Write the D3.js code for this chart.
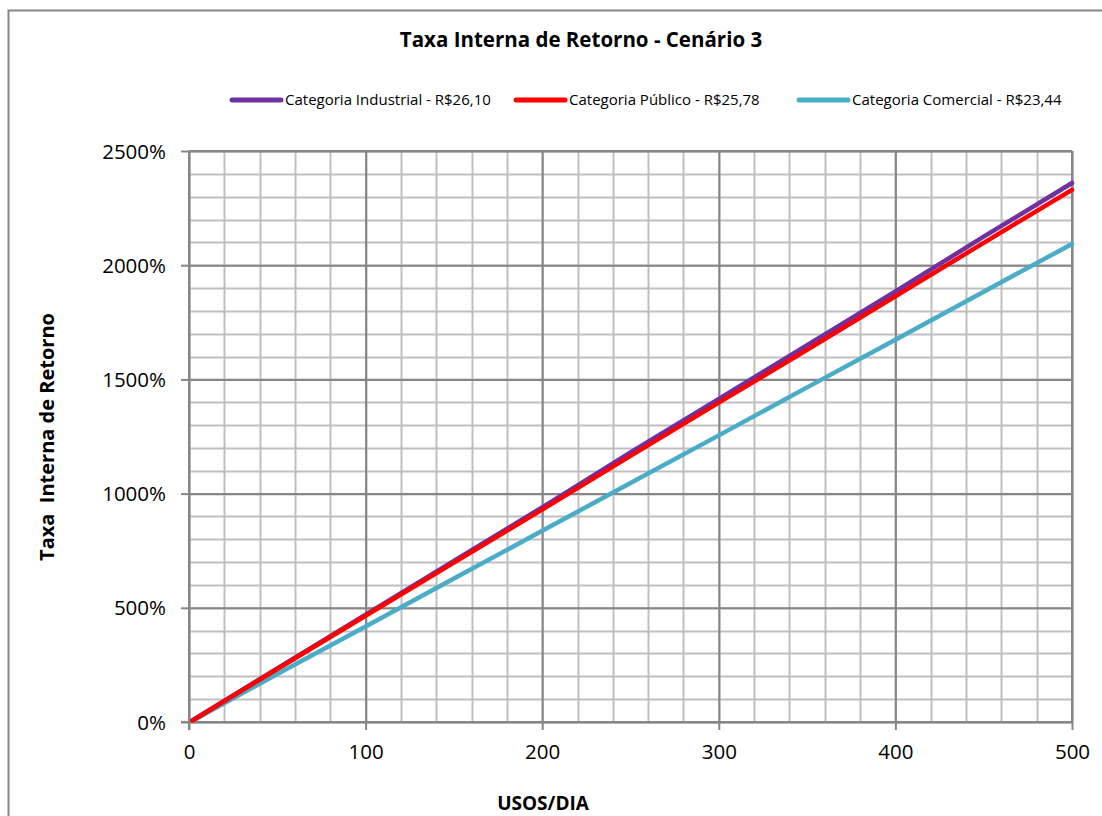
<!DOCTYPE html>
<html>
<head>
<meta charset="utf-8">
<script src="https://cdn.jsdelivr.net/npm/d3@7/dist/d3.min.js"></script>
<style>
  html, body { margin: 0; padding: 0; background: #fff; }
  svg { display: block; font-family: 'Open Sans', sans-serif; }
</style>
</head>
<body>
<svg id="chart"></svg>
<script>
'use strict';

// uses per day
const usos = [2, 50, 100, 150, 200, 250, 300, 350, 400, 450, 500];

// TIR in percent
const industrial = [8, 235, 470, 705, 940, 1180, 1415, 1650, 1885, 2125, 2360];
const publico    = [6, 232, 465, 698, 930, 1165, 1398, 1630, 1864, 2098, 2330];
const comercial  = [5, 210, 418, 628, 837, 1046, 1255, 1465, 1674, 1884, 2093];

const seriesNames = [
  'Categoria Industrial - R$26,10',
  'Categoria Público - R$25,78',
  'Categoria Comercial - R$23,44'
];
const seriesColors = ['#7030a0', '#ff0000', '#4bacc6'];

const yTicks = [0, 500, 1000, 1500, 2000, 2500];
const xTicks = [0, 100, 200, 300, 400, 500];

const W = 1102, H = 816;
const margin = {top: 151, right: 30, bottom: 94, left: 189};
const width = W - margin.left - margin.right;
const height = H - margin.top - margin.bottom;
const axisColor = '#868686';

const svg = d3.select('#chart')
    .attr('width', W)
    .attr('height', H);

svg.append('rect')
    .attr('x', 8.5)
    .attr('y', 10.5)
    .attr('width', W + 20)
    .attr('height', H + 20)
    .style('fill', '#fff')
    .style('stroke', axisColor)
    .style('stroke-width', 2);

svg.append('text')
    .attr('x', 581)
    .attr('y', 47)
    .attr('text-anchor', 'middle')
    .style('font-size', '20.5px')
    .style('font-weight', 'bold')
    .text('Taxa Interna de Retorno - Cenário 3');

const x = d3.scaleLinear().domain([0, 500]).range([0, width]);
const y = d3.scaleLinear().domain([0, 2500]).range([height, 0]);

const graph = svg.append('g')
    .attr('transform', `translate(${margin.left}, ${margin.top})`);

// minor grid
graph.append('g')
    .selectAll('line')
    .data(d3.range(0, 2501, 100))
  .enter().append('line')
    .attr('x1', 0).attr('x2', width)
    .attr('y1', d => Math.round(y(d)) + 0.5)
    .attr('y2', d => Math.round(y(d)) + 0.5)
    .style('stroke', '#bfbfbf')
    .style('stroke-width', 2);

graph.append('g')
    .selectAll('line')
    .data(d3.range(0, 501, 20))
  .enter().append('line')
    .attr('y1', 0).attr('y2', height)
    .attr('x1', d => Math.round(x(d)) + 0.5)
    .attr('x2', d => Math.round(x(d)) + 0.5)
    .style('stroke', '#bfbfbf')
    .style('stroke-width', 2);

// major grid
const yAxis = d3.axisLeft(y)
    .tickValues(yTicks)
    .tickSize(-width)
    .tickFormat(d => d + '%');

const xAxis = d3.axisBottom(x)
    .tickValues(xTicks)
    .tickSize(-height);

const gy = graph.append('g').attr('class', 'y-axis').call(yAxis);
const gx = graph.append('g').attr('class', 'x-axis')
    .attr('transform', `translate(0, ${height})`)
    .call(xAxis);

[gx, gy].forEach(g => {
  g.select('.domain').remove();
  g.selectAll('.tick line')
      .style('stroke', axisColor)
      .style('stroke-width', 2);
  g.selectAll('.tick text')
      .style('font-family', "'Open Sans', sans-serif")
      .style('font-size', '20.5px')
      .style('fill', '#000');
});

// tick marks outside plot
gy.selectAll('.tick').append('line')
    .attr('x1', -8).attr('x2', 0)
    .style('stroke', axisColor).style('stroke-width', 2);
gx.selectAll('.tick').append('line')
    .attr('y1', 0).attr('y2', 8)
    .style('stroke', axisColor).style('stroke-width', 2);

gy.selectAll('.tick text').attr('x', -23).attr('dy', '0.35em');
gx.selectAll('.tick text').attr('y', 22).attr('dy', '0.71em');

// frame of the plot
[[0, 0, 0, height + 8], [-8, height, width, height],
 [width, 0, width, height], [0, 0, width, 0]].forEach(([x1, y1, x2, y2]) => {
  graph.append('line')
      .attr('x1', x1).attr('y1', y1).attr('x2', x2).attr('y2', y2)
      .style('stroke', axisColor).style('stroke-width', 2);
});

// series
const line = d3.line()
    .x(d => x(d[0]))
    .y(d => y(d[1]));

const allSeries = [industrial, publico, comercial];
[2, 0, 1].forEach(i => {
  graph.append('path')
      .datum(usos.map((u, k) => [u, allSeries[i][k]]))
      .attr('d', line)
      .style('fill', 'none')
      .style('stroke', seriesColors[i])
      .style('stroke-width', 4.5)
      .style('stroke-linecap', 'round');
});

// legend
const legendX = [230, 514, 797];
const legend = svg.append('g');
seriesNames.forEach((name, i) => {
  legend.append('line')
      .attr('x1', legendX[i] + 2).attr('x2', legendX[i] + 51)
      .attr('y1', 100).attr('y2', 100)
      .style('stroke', seriesColors[i])
      .style('stroke-width', 5)
      .style('stroke-linecap', 'round');
  legend.append('text')
      .attr('x', legendX[i] + 55)
      .attr('y', 105)
      .style('font-size', '15px')
      .text(name);
});

// axis titles
svg.append('text')
    .attr('x', 543)
    .attr('y', 810)
    .attr('text-anchor', 'middle')
    .style('font-size', '19px')
    .style('font-weight', 'bold')
    .text('USOS/DIA');

svg.append('text')
    .attr('transform', 'translate(54, 437) rotate(-90)')
    .attr('text-anchor', 'middle')
    .style('font-size', '20px')
    .style('font-weight', 'bold')
    .style('white-space', 'pre')
    .text('Taxa  Interna de Retorno');
</script>
</body>
</html>
